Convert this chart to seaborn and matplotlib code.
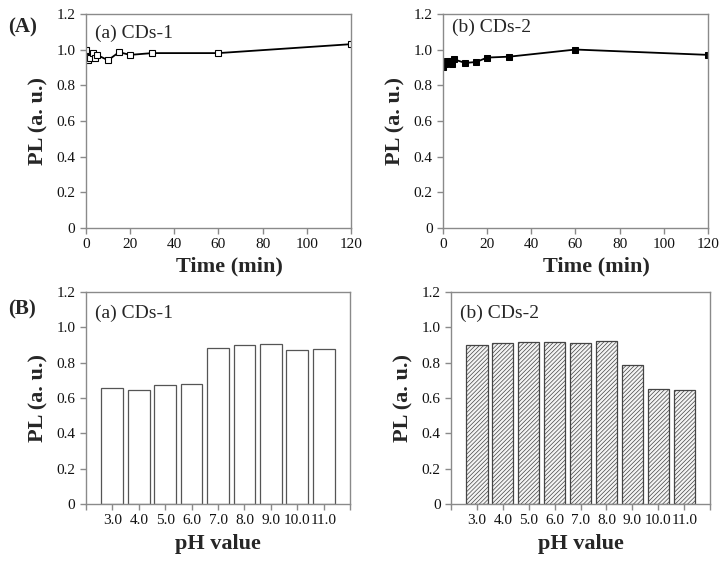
import numpy as np
import pandas as pd
import matplotlib
matplotlib.use("Agg")
import matplotlib.pyplot as plt
import seaborn as sns

# stability over time
time_min = [0, 0.5, 1, 2, 3, 4, 5, 10, 15, 20, 30, 60, 120]
pl_time_cds1 = [1.00, 0.96, 0.94, 0.95, 0.98, 0.955, 0.97, 0.94, 0.985, 0.97, 0.98, 0.98, 1.03]
pl_time_cds2 = [0.90, 0.92, 0.92, 0.935, 0.935, 0.92, 0.945, 0.925, 0.93, 0.955, 0.96, 1.00, 0.97]

# pH dependence
ph_labels = ["3.0", "4.0", "5.0", "6.0", "7.0", "8.0", "9.0", "10.0", "11.0"]
pl_ph_cds1 = [0.655, 0.645, 0.672, 0.68, 0.885, 0.90, 0.905, 0.873, 0.878]
pl_ph_cds2 = [0.90, 0.91, 0.92, 0.918, 0.912, 0.922, 0.787, 0.65, 0.645]

y_ticks = [0, 0.2, 0.4, 0.6, 0.8, 1.0, 1.2]
y_tick_labels = ["0", "0.2", "0.4", "0.6", "0.8", "1.0", "1.2"]

sns.set_style("ticks")
plt.rcParams["font.family"] = ["Liberation Serif", "DejaVu Serif"]
plt.rcParams["hatch.color"] = "#707070"
plt.rcParams["hatch.linewidth"] = 0.5

SPINE = "#8a8a8a"

fig = plt.figure(figsize=(7.28, 5.65), dpi=100)
ax_tl = fig.add_axes([0.118, 0.5965, 0.364, 0.379])
ax_tr = fig.add_axes([0.6085, 0.5965, 0.364, 0.379])
ax_bl = fig.add_axes([0.118, 0.108, 0.363, 0.375])
ax_br = fig.add_axes([0.6195, 0.108, 0.356, 0.375])


def style_axes(ax):
    for s in ax.spines.values():
        s.set_color(SPINE)
        s.set_linewidth(1.0)
    ax.tick_params(axis="both", colors=SPINE, labelcolor="#111111",
                   labelsize=11, length=4, width=1.0, direction="out")
    ax.set_ylim(0, 1.2)
    ax.set_yticks(y_ticks)
    ax.set_yticklabels(y_tick_labels)
    ax.set_ylabel("PL (a. u.)", fontsize=16, fontweight="bold", labelpad=6)


# --- time panels ---
df1 = pd.DataFrame({"t": time_min, "pl": pl_time_cds1})
sns.lineplot(data=df1, x="t", y="pl", ax=ax_tl, color="black", lw=1.3,
             marker="s", markersize=4.5, markerfacecolor="white",
             markeredgecolor="black", markeredgewidth=0.8)
df2 = pd.DataFrame({"t": time_min, "pl": pl_time_cds2})
sns.lineplot(data=df2, x="t", y="pl", ax=ax_tr, color="black", lw=1.3,
             marker="s", markersize=3.8, markerfacecolor="black",
             markeredgecolor="black")

for ax, txt, ty, lx in [(ax_tl, "(a) CDs-1", 0.91, 0.54),
                        (ax_tr, "(b) CDs-2", 0.935, 0.58)]:
    style_axes(ax)
    ax.set_xlim(0, 120)
    ax.set_xticks(range(0, 121, 20))
    ax.set_xlabel("Time (min)", fontsize=16, fontweight="bold")
    ax.xaxis.set_label_coords(lx, -0.135)
    ax.text(0.035, ty, txt, transform=ax.transAxes, fontsize=14,
            va="center", ha="left")

# --- pH panels ---
dfb1 = pd.DataFrame({"ph": ph_labels, "pl": pl_ph_cds1})
sns.barplot(data=dfb1, x="ph", y="pl", ax=ax_bl, color="white",
            edgecolor="#555555", linewidth=0.9, width=0.82, saturation=1)
dfb2 = pd.DataFrame({"ph": ph_labels, "pl": pl_ph_cds2})
sns.barplot(data=dfb2, x="ph", y="pl", ax=ax_br, color="#f4f4f4",
            edgecolor="#444444", linewidth=0.9, width=0.82, saturation=1)
for p in ax_br.patches:
    p.set_hatch("////////")

n = len(ph_labels)
for ax, txt in [(ax_bl, "(a) CDs-1"), (ax_br, "(b) CDs-2")]:
    style_axes(ax)
    ax.set_xlim(-1, n)
    ax.set_xticks(range(-1, n + 1))
    ax.set_xticklabels([""] + ph_labels + [""])
    ax.set_xlabel("pH value", fontsize=16, fontweight="bold", labelpad=5)
    ax.text(0.033, 0.9, txt, transform=ax.transAxes, fontsize=14,
            va="center", ha="left")

fig.text(0.011, 0.952, "(A)", fontsize=15, fontweight="bold", va="center")
fig.text(0.011, 0.453, "(B)", fontsize=15, fontweight="bold", va="center")

fig.savefig("out.png", dpi=100)
